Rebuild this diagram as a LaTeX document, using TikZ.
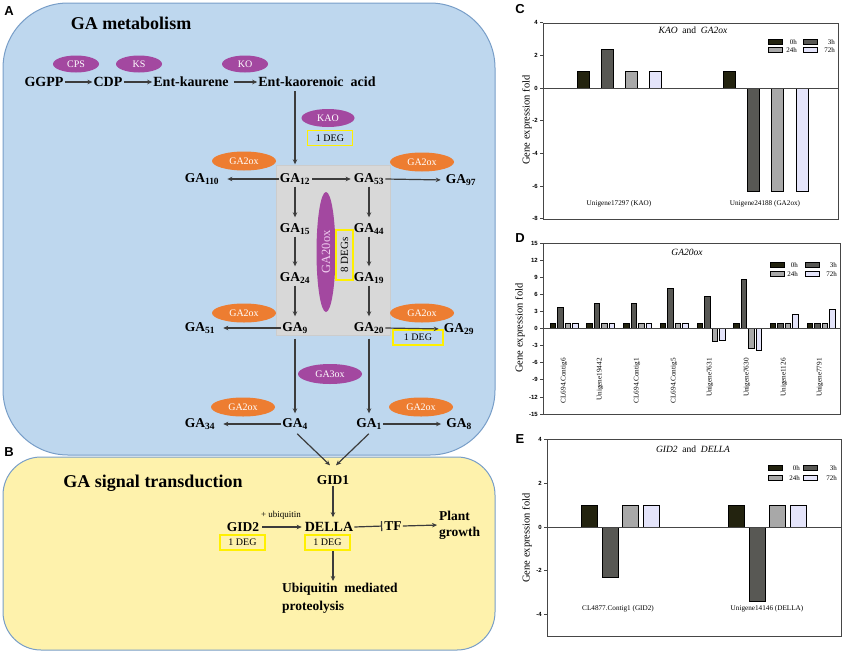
\documentclass[tikz,border=0pt]{standalone}
\usepackage{fontspec}
\setmainfont{Liberation Serif}
\newfontfamily\lsans{Liberation Sans}
\usetikzlibrary{arrows.meta,calc,shapes.geometric}
\newcommand\fsz[2]{\fontsize{#1}{#2}\selectfont}
\definecolor{blueA}{RGB}{190,215,238}
\definecolor{blueB}{RGB}{120,158,200}
\definecolor{yelA}{RGB}{254,242,172}
\definecolor{purp}{RGB}{163,72,160}
\definecolor{orng}{RGB}{237,125,49}
\definecolor{greyb}{RGB}{216,216,216}
\definecolor{arrc}{RGB}{60,60,60}
\definecolor{ylw}{RGB}{255,240,0}
\definecolor{pinkt}{RGB}{240,205,240}
\definecolor{c0}{RGB}{35,35,15}
\definecolor{c3}{RGB}{88,88,84}
\definecolor{c24}{RGB}{168,168,168}
\definecolor{c72}{RGB}{228,228,250}
\definecolor{frmc}{RGB}{70,70,70}
\tikzset{
  arr/.style={draw=arrc, line width=1.2pt, -{Stealth[length=5pt,width=4.5pt]}},
  ln/.style={draw=arrc, line width=1.2pt},
  cmp/.style={font=\fsz{14}{16}\bfseries, inner sep=1pt},
  ga/.style={font=\fsz{13.5}{15}\bfseries, inner sep=1pt, text height=10pt, text depth=3pt},
  enzP/.style={ellipse, fill=purp, text=white, font=\fsz{10}{12}, minimum width=46pt, minimum height=17pt, inner sep=0pt},
  enzO/.style={ellipse, fill=orng, text=white, font=\fsz{10}{12}, minimum width=64pt, minimum height=19pt, inner sep=0pt},
  deg/.style={draw=ylw, line width=1.6pt, font=\fsz{10}{12}, minimum width=45pt, minimum height=15pt, inner sep=0pt},
  panel/.style={font=\lsans\bfseries\fsz{13}{15}, inner sep=0pt},
  frm/.style={draw=frmc, line width=0.8pt},
  bar/.style={draw=black, line width=0.6pt},
  tick/.style={font=\lsans\bfseries\fsz{6}{7}, anchor=east, inner sep=0pt},
  ylab/.style={font=\fsz{10.5}{12}, rotate=90, inner sep=0pt},
  ctitle/.style={font=\fsz{9.5}{11}, inner sep=0pt},
  glab/.style={font=\fsz{7.2}{8}, inner sep=0pt},
  leg/.style={font=\fsz{7}{8}, anchor=east, inner sep=0pt},
}
\begin{document}
\begin{tikzpicture}[x=1pt,y=-1pt]
\useasboundingbox (0,0) rectangle (850,653);
% ---------- panel backgrounds
\draw[fill=blueA, draw=blueB, line width=1pt, rounded corners=65pt] (3,3) rectangle (495,455);
\draw[fill=yelA, draw=blueB, line width=1pt, rounded corners=38pt] (3,457) rectangle (495,650);
\node[panel] (lA) at (9,11) {A};
\node[panel] (lB) at (9,452) {B};
\node[panel] (lC) at (520,9) {C};
\node[panel] (lD) at (520,238) {D};
\node[panel] (lE) at (520,439) {E};
% ---------- GA metabolism
\node[font=\fsz{18}{20}\bfseries] (tA) at (131,23) {GA metabolism};
\node[cmp] (GGPP) at (44,82) {GGPP};
\node[cmp] (CDP) at (108,82) {CDP};
\node[cmp] (entk) at (191,82) {Ent-kaurene};
\node[cmp] (enta) at (317,82) {Ent-kaorenoic\ \ acid};
\node[enzP] (CPS) at (76,64) {CPS};
\node[enzP] (KS) at (139,64) {KS};
\node[enzP] (KO) at (245,64) {KO};
\draw[arr] (GGPP) -- (CDP);
\draw[arr] (CDP) -- (entk);
\draw[arr, shorten <=4pt] (entk) -- (enta);
% grey box
\draw[fill=greyb, draw=black!20, line width=0.8pt] (276,165) rectangle (390,335);
% GA nodes
\node[ga] (GA110) at (202,179) {GA\textsubscript{110}};
\node[ga] (GA12) at (295,179) {GA\textsubscript{12}};
\node[ga] (GA53) at (369,179) {GA\textsubscript{53}};
\node[ga] (GA97) at (461,180) {GA\textsubscript{97}};
\node[ga] (GA15) at (295,229) {GA\textsubscript{15}};
\node[ga] (GA44) at (369,229) {GA\textsubscript{44}};
\node[ga] (GA24) at (295,278) {GA\textsubscript{24}};
\node[ga] (GA19) at (369,278) {GA\textsubscript{19}};
\node[ga] (GA51) at (200,328) {GA\textsubscript{51}};
\node[ga] (GA9) at (295,328) {GA\textsubscript{9}};
\node[ga] (GA20) at (369,328) {GA\textsubscript{20}};
\node[ga] (GA29) at (459,329) {GA\textsubscript{29}};
\node[ga] (GA34) at (200,424) {GA\textsubscript{34}};
\node[ga] (GA4) at (295,424) {GA\textsubscript{4}};
\node[ga] (GA1) at (369,424) {GA\textsubscript{1}};
\node[ga] (GA8) at (459,424) {GA\textsubscript{8}};
% enzymes
\node[enzP, minimum width=53pt, minimum height=18pt] (KAO) at (328,118) {KAO};
\node[deg] (dKAO) at (330,138) {1 DEG};
\node[enzO] (ox1) at (244,161) {GA2ox};
\node[enzO] (ox2) at (422,162) {GA2ox};
\node[enzO] (ox3) at (244,313) {GA2ox};
\node[enzO] (ox4) at (422,313) {GA2ox};
\node[deg, minimum width=50pt] (dox4) at (418,337.5) {1 DEG};
\node[enzO] (ox5) at (243,407) {GA2ox};
\node[enzO] (ox6) at (421,407) {GA2ox};
\node[enzP, minimum width=64pt, minimum height=20pt] (GA3ox) at (330,374) {GA3ox};
\node[ellipse, fill=purp, text=pinkt, font=\fsz{12.5}{14}, rotate=90, minimum width=120pt, minimum height=19pt, inner sep=0pt] (GA20ox) at (326,252) {GA20ox};
\node[deg, rotate=90, minimum width=50pt, minimum height=17pt, font=\fsz{11}{12}] (d20) at (344.5,255) {8 DEGs};
% arrows in metabolism
\draw[arr, shorten <=3pt, shorten >=7pt] (enta.south -| GA12.north) -- (GA12.north);
\draw[arr, shorten >=7pt] (GA12.west) -- (GA110.east);
\draw[arr, shorten <=1pt, shorten >=2pt] (GA12.east) -- (GA53.west);
\draw[arr, shorten >=4pt] (GA53.east) -- (GA97.west);
\draw[arr, shorten >=4pt] (GA12.south) -- (GA15.north);
\draw[arr, shorten >=4pt] (GA15.south) -- (GA24.north);
\draw[arr, shorten >=4pt] (GA24.south) -- (GA9.north);
\draw[arr, shorten >=4pt] (GA53.south) -- (GA44.north);
\draw[arr, shorten >=4pt] (GA44.south) -- (GA19.north);
\draw[arr, shorten >=4pt] (GA19.south) -- (GA20.north);
\draw[arr, shorten >=7pt] (GA9.west) -- (GA51.east);
\draw[arr, shorten >=4pt] (GA20.east) -- (GA29.west);
\draw[arr, shorten <=3pt, shorten >=3pt] (GA9.south) -- (GA4.north);
\draw[arr, shorten <=3pt, shorten >=3pt] (GA20.south) -- (GA1.north);
\draw[arr, shorten >=7pt] (GA4.west) -- (GA34.east);
\draw[arr, shorten >=4pt] (GA1.east) -- (GA8.west);
% ---------- GA signal transduction
\node[font=\fsz{18}{20}\bfseries] (tB) at (153,483) {GA signal transduction};
\node[cmp, font=\fsz{13.5}{15}\bfseries] (GID1) at (333,480) {GID1};
\node[cmp, font=\fsz{14}{16}\bfseries] (DELLA) at (329,527) {DELLA};
\node[cmp, font=\fsz{13.5}{15}\bfseries] (GID2) at (243,527) {GID2};
\node[font=\fsz{9}{10}, inner sep=0pt] (ubq) at (281,515) {+ ubiquitin};
\node[deg] (dGID2) at (242.5,542.5) {1 DEG};
\node[deg] (dDELLA) at (327.5,542.5) {1 DEG};
\node[cmp, font=\fsz{13.5}{15}\bfseries] (TF) at (393,526) {TF};
\node[cmp, align=left, anchor=west, font=\fsz{13.5}{16}\bfseries] (PG) at (438,525) {Plant\\growth};
\node[cmp, align=left, anchor=north west, font=\fsz{13.5}{18}\bfseries] (UMP) at (281,582) {Ubiquitin\ \ mediated\\proteolysis};
\draw[arr, shorten <=3pt] ([xshift=0pt]GA4.south) -- ([xshift=-3pt,yshift=9pt]GID1.north);
\draw[arr, shorten <=3pt] ([xshift=2pt]GA1.south) -- ([xshift=3pt,yshift=9pt]GID1.north);
\draw[arr, shorten >=4pt] (GID1.south) -- (GID1.south |- DELLA.north);
\draw[arr, shorten <=2pt, shorten >=2pt] (GID2.east) -- (DELLA.west);
\draw[ln, -{Bar[width=10pt,line width=1.2pt]}, shorten >=1pt] (DELLA.east) -- (TF.west);
\draw[arr, shorten >=1pt] (TF.east) -- (PG.west);
\draw[arr, shorten >=1pt] (dDELLA.south -| GID1.south) -- (UMP.north -| GID1.south);
% ---------- chart C
\draw[frm] (543,23) rectangle (838,219);
\foreach \v in {4,2,0,-2,-4,-6,-8} {
  \draw[frm] (540,{88-\v*16.35}) -- (543,{88-\v*16.35});
  \node[tick] (tC\v) at (538,{88-\v*16.35}) {\v};
}
\foreach \x/\v/\c in {577/1/c0, 601/2.35/c3, 625/1/c24, 649/1/c72, 723/1/c0, 747/-6.3/c3, 771/-6.3/c24, 796/-6.3/c72}
  \draw[bar, fill=\c] (\x,88) rectangle ({\x+12},{88-\v*16.35});
\draw[frm] (543,88) -- (838,88);
\node[ctitle] (ttC) at (693,30) {\textit{KAO}\ \ and\ \ \textit{GA2ox}};
\node[glab] (gC1) at (619,204) {Unigene17297 (KAO)};
\node[glab] (gC2) at (765,204) {Unigene24188 (GA2ox)};
\node[ylab] (yC) at (527,120) {Gene expression fold};
% ---------- chart D
\draw[frm] (543,243) rectangle (840,414);
\foreach \v in {15,12,9,6,3,0,-3,-6,-9,-12,-15} {
  \draw[frm] (540,{328.5-\v*5.7}) -- (543,{328.5-\v*5.7});
  \node[tick] (tD\v) at (538,{328.5-\v*5.7}) {\v};
}
\foreach \a/\b/\cc/\d [count=\g from 0] in {1/3.8/1/1, 1/4.5/1/1, 1/4.5/1/1, 1/7.0/1/1, 1/5.6/-2.3/-2.1, 1/8.7/-3.4/-3.9, 1/1/1/2.5, 1/1/1/3.3} {
  \pgfmathsetmacro\gx{550+36.7*\g}
  \draw[bar, fill=c0] (\gx,328.5) rectangle ({\gx+5.5},{328.5-\a*5.7});
  \draw[bar, fill=c3] ({\gx+7.5},328.5) rectangle ({\gx+13},{328.5-\b*5.7});
  \draw[bar, fill=c24] ({\gx+15},328.5) rectangle ({\gx+20.5},{328.5-\cc*5.7});
  \draw[bar, fill=c72] ({\gx+22.5},328.5) rectangle ({\gx+28},{328.5-\d*5.7});
}
\draw[frm] (543,328.5) -- (840,328.5);
\foreach \x/\t [count=\k] in {564/CL694.Contig6, 600/Unigene19442, 637/CL694.Contig1, 674/CL694.Contig5, 710/Unigene7631, 747/Unigene7630, 784/Unigene1126, 820/Unigene7791}
  \node[glab, rotate=90, anchor=east] (gD\k) at (\x,358) {\t};
\node[ctitle] (ttD) at (687,252) {\textit{GA20ox}};
\node[ylab] (yD) at (520,328) {Gene expression fold};
% ---------- chart E
\draw[frm] (547,439) rectangle (841,636);
\foreach \v in {4,2,0,-2,-4} {
  \draw[frm] (544,{527-\v*21.9}) -- (547,{527-\v*21.9});
  \node[tick] (tE\v) at (542,{527-\v*21.9}) {\v};
}
\foreach \x/\v/\c in {581/1/c0, 602/-2.3/c3, 622/1/c24, 643/1/c72, 728/1/c0, 749/-3.4/c3, 769/1/c24, 790/1/c72}
  \draw[bar, fill=\c] (\x,527) rectangle ({\x+16},{527-\v*21.9});
\draw[frm] (547,527) -- (841,527);
\node[ctitle] (ttE) at (693,449) {\textit{GID2}\ \ and\ \ \textit{DELLA}};
\node[glab] (gE1) at (618,609) {CL4877.Contig1 (GID2)};
\node[glab] (gE2) at (767,609) {Unigene14146 (DELLA)};
\node[ylab] (yE) at (527,538) {Gene expression fold};
% ---------- legends
\foreach \nm/\bx/\ya/\yb/\la/\lb in {C/768/42/50/797/835, D/770/265/274/798/837, E/768/468/478/800/837} {
  \draw[bar, fill=c0] (\bx,{\ya-2.5}) rectangle ({\bx+14},{\ya+2.5});
  \draw[bar, fill=c3] ({\bx+35},{\ya-2.5}) rectangle ({\bx+49},{\ya+2.5});
  \draw[bar, fill=c24] (\bx,{\yb-2.5}) rectangle ({\bx+14},{\yb+2.5});
  \draw[bar, fill=c72] ({\bx+35},{\yb-2.5}) rectangle ({\bx+49},{\yb+2.5});
  \node[leg] (l0\nm) at (\la,\ya) {0h};
  \node[leg] (l3\nm) at (\lb,\ya) {3h};
  \node[leg] (l24\nm) at (\la,\yb) {24h};
  \node[leg] (l72\nm) at (\lb,\yb) {72h};
}
\end{tikzpicture}
\end{document}
